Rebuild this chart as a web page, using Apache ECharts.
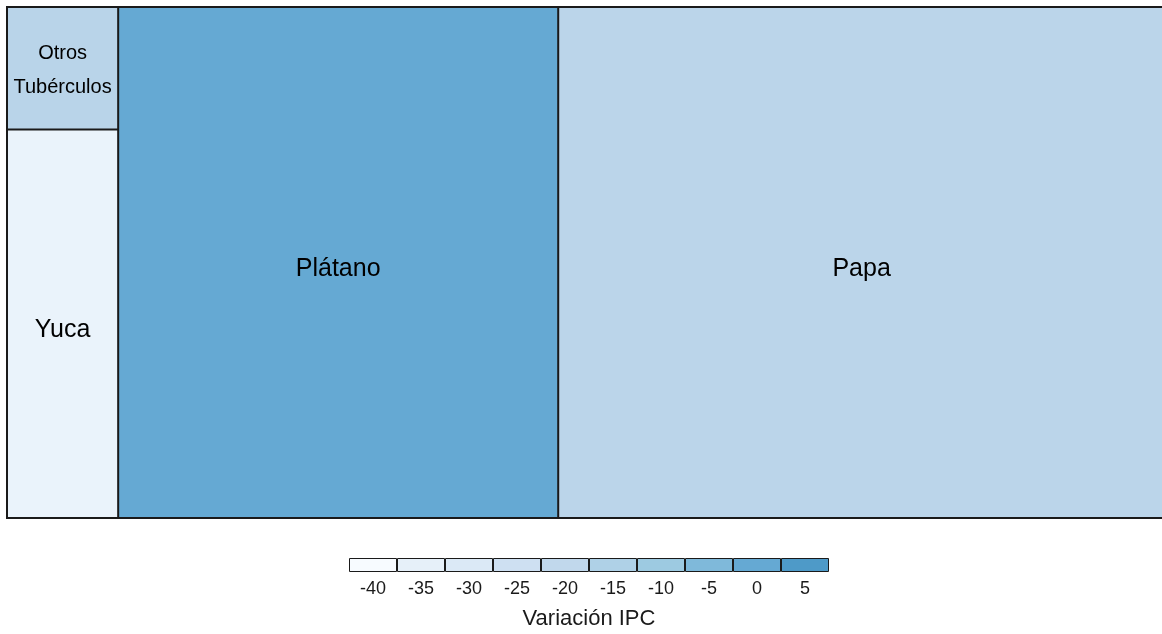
<!DOCTYPE html>
<html><head><meta charset="utf-8">
<script src="https://cdn.jsdelivr.net/npm/echarts@6/dist/echarts.min.js"></script>
<style>html,body{margin:0;padding:0;background:#fff}#c{width:1162px;height:634px}</style>
</head><body><div id="c"></div>
<script>
// Data
const names = ['Otros\nTubérculos', 'Yuca', 'Plátano', 'Papa'];
const weights = [2.3, 7.3, 38.0, 52.4];
const ipcVariation = [-19, -34, -0.5, -19];
const legendTicks = ['-40', '-35', '-30', '-25', '-20', '-15', '-10', '-5', '0', '5'];

// styles
const cellColors = ['#b9d4e9', '#eaf3fb', '#65a9d3', '#bbd5ea'];
const legendColors = ['#f7fbff', '#e6f0f9', '#dbe9f6', '#cee0f2', '#c1d8ec', '#afd1e7', '#9dcae1', '#7fb9da', '#65a9d3', '#4e9ac8'];
const fontSizes = [20, 25, 25, 25];
const lineHeights = [34, 30, 30, 30];
const labelOffsets = [[0, 2], [0, 6], [0, 7], [0, 7]];

const FONT = 'Liberation Sans, Arial, sans-serif';
const chart = echarts.init(document.getElementById('c'), null, {renderer: 'canvas'});
chart.setOption({
  animation: false,
  textStyle: {fontFamily: FONT},
  grid: {left: 349, top: 558, width: 480, height: 14},
  xAxis: {
    type: 'category', data: legendTicks,
    axisLine: {show: false}, axisTick: {show: false},
    axisLabel: {color: '#1a1a1a', fontSize: 18, margin: 8, fontFamily: FONT},
    name: 'Variación IPC', nameLocation: 'middle', nameGap: 36,
    nameTextStyle: {color: '#1a1a1a', fontSize: 22, fontFamily: FONT}
  },
  yAxis: {type: 'value', min: 0, max: 1, show: false},
  series: [
    {
      type: 'bar', barCategoryGap: 0, silent: true,
      data: legendTicks.map((t, i) => ({value: 1, itemStyle: {color: legendColors[i], borderColor: '#1a1a1a', borderWidth: 1}}))
    },
    {
      type: 'treemap',
      left: 6, top: 6, width: 1160, height: 513,
      sort: false, roam: false, nodeClick: false,
      breadcrumb: {show: false},
      itemStyle: {borderColor: '#1a1a1a', borderWidth: 1, gapWidth: 0},
      label: {show: true, position: 'inside', color: '#000', overflow: 'none', fontFamily: FONT},
      data: names.map((n, i) => ({
        name: n, value: [weights[i], ipcVariation[i]],
        itemStyle: {color: cellColors[i]},
        label: {fontSize: fontSizes[i], lineHeight: lineHeights[i], offset: labelOffsets[i]}
      }))
    }
  ]
});
</script></body></html>
